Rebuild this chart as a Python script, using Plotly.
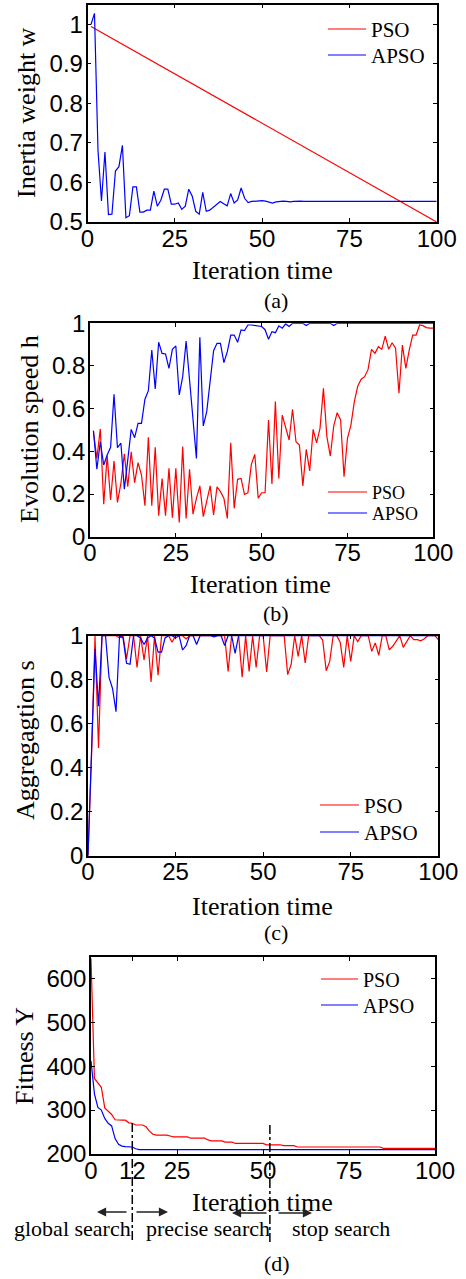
import plotly.graph_objects as go

W, H = 466, 1279

# ---------------- data ----------------
it_a_pso = [1, 100]
w_pso = [0.995, 0.5]
it_100 = list(range(1, 101))
w_apso = [1.0, 1.028, 0.682, 0.553, 0.677, 0.519, 0.52, 0.629, 0.64, 0.694,
          0.511, 0.516, 0.589, 0.589, 0.525, 0.525, 0.53, 0.53, 0.578, 0.54,
          0.555, 0.583, 0.583, 0.545, 0.545, 0.548, 0.532, 0.54, 0.583, 0.565,
          0.527, 0.52, 0.575, 0.527, 0.53, 0.537, 0.545, 0.552, 0.546, 0.541,
          0.572, 0.548, 0.556, 0.586, 0.56, 0.549, 0.552, 0.553, 0.554, 0.554,
          0.553, 0.551, 0.548, 0.551, 0.552, 0.553, 0.552, 0.551, 0.552, 0.553,
          0.553, 0.552, 0.552, 0.552, 0.552, 0.552, 0.552, 0.552, 0.552, 0.552,
          0.552, 0.552, 0.552, 0.552, 0.552, 0.552, 0.552, 0.552, 0.552, 0.552,
          0.552, 0.552, 0.552, 0.552, 0.552, 0.552, 0.552, 0.552, 0.552, 0.552,
          0.552, 0.552, 0.552, 0.552, 0.552, 0.552, 0.552, 0.552, 0.552, 0.552]

h_pso = [0.492, 0.367, 0.505, 0.152, 0.38, 0.172, 0.355, 0.161, 0.25, 0.388,
         0.234, 0.398, 0.253, 0.347, 0.289, 0.145, 0.466, 0.145, 0.419, 0.098,
         0.273, 0.098, 0.32, 0.089, 0.32, 0.067, 0.422, 0.086, 0.316, 0.106,
         0.18, 0.238, 0.094, 0.172, 0.238, 0.102, 0.234, 0.211, 0.18, 0.086,
         0.44, 0.133, 0.269, 0.273, 0.198, 0.206, 0.339, 0.386, 0.18, 0.206,
         0.206, 0.547, 0.247, 0.633, 0.273, 0.57, 0.508, 0.453, 0.597, 0.445,
         0.43, 0.238, 0.409, 0.308, 0.503, 0.44, 0.508, 0.695, 0.469, 0.378,
         0.519, 0.581, 0.547, 0.281, 0.461, 0.523, 0.633, 0.706, 0.738, 0.75,
         0.784, 0.878, 0.859, 0.89, 0.878, 0.94, 0.878, 0.909, 0.883, 0.672,
         0.898, 0.789, 0.875, 0.945, 0.945, 0.992, 0.989, 0.98, 0.977, 0.977]
h_apso = [0.497, 0.316, 0.445, 0.336, 0.383, 0.419, 0.667, 0.417, 0.438, 0.223,
          0.36, 0.503, 0.464, 0.531, 0.531, 0.644, 0.684, 0.875, 0.692, 0.911,
          0.859, 0.856, 0.789, 0.878, 0.894, 0.664, 0.75, 0.917, 0.734, 0.547,
          0.367, 0.934, 0.519, 0.586, 0.719, 0.872, 0.906, 0.906, 0.816, 0.867,
          0.945, 0.945, 0.911, 0.969, 0.966, 0.992, 0.992, 0.99, 0.99, 0.985,
          0.97, 0.925, 0.961, 0.956, 0.988, 0.977, 0.997, 0.985, 1.0, 1.0,
          1.0, 1.0, 0.99, 1.0, 1.0, 1.0, 1.0, 1.0, 1.0, 1.0,
          0.99, 1.0, 1.0, 1.0, 1.0, 1.0, 1.0, 1.0, 1.0, 1.0,
          1.0, 1.0, 1.0, 1.0, 1.0, 1.0, 1.0, 1.0, 1.0, 1.0,
          1.0, 1.0, 1.0, 1.0, 1.0, 1.0, 1.0, 1.0, 1.0, 1.0]

it_101 = list(range(0, 101))
s_pso = [0.0, 0.45, 1.0, 0.49, 1.0, 1.0, 1.0, 1.0, 1.0, 0.99,
         1.0, 0.895, 1.0, 1.0, 0.856, 1.0, 0.89, 1.0, 0.79, 1.0,
         0.82, 1.0, 1.0, 1.0, 0.97, 1.0, 1.0, 1.0, 0.985, 1.0,
         1.0, 1.0, 1.0, 1.0, 1.0, 1.0, 1.0, 1.0, 1.0, 1.0,
         0.838, 1.0, 1.0, 1.0, 0.811, 1.0, 0.838, 1.0, 0.856, 1.0,
         1.0, 0.835, 1.0, 1.0, 1.0, 1.0, 1.0, 0.823, 0.87, 1.0,
         0.906, 1.0, 0.876, 1.0, 1.0, 0.997, 1.0, 0.98, 0.841, 0.883,
         1.0, 1.0, 0.97, 0.856, 1.0, 0.883, 1.0, 0.973, 1.0, 1.0,
         1.0, 0.929, 0.967, 0.911, 1.0, 1.0, 0.936, 0.952, 0.974, 1.0,
         0.947, 0.977, 1.0, 0.982, 0.982, 0.977, 0.986, 1.0, 1.0, 1.0,
         0.982]
s_apso = [0.0, 0.45, 0.94, 0.68, 1.0, 1.0, 0.81, 0.76, 0.655, 1.0,
          0.99, 0.875, 0.87, 1.0, 1.0, 0.99, 0.96, 0.99, 1.0, 0.99,
          0.925, 0.925, 0.99, 1.0, 1.0, 0.99, 1.0, 0.935, 0.955, 1.0,
          1.0, 0.96, 1.0, 1.0, 1.0, 1.0, 0.995, 1.0, 1.0, 0.955,
          1.0, 1.0, 0.92, 1.0, 1.0, 1.0, 1.0, 1.0, 1.0, 1.0,
          1.0, 1.0, 1.0, 1.0, 1.0, 1.0, 1.0, 1.0, 1.0, 1.0,
          1.0, 1.0, 1.0, 1.0, 1.0, 1.0, 1.0, 1.0, 1.0, 1.0,
          1.0, 1.0, 1.0, 1.0, 1.0, 1.0, 1.0, 1.0, 1.0, 1.0,
          1.0, 1.0, 1.0, 1.0, 1.0, 1.0, 1.0, 1.0, 1.0, 1.0,
          1.0, 1.0, 1.0, 1.0, 1.0, 1.0, 1.0, 1.0, 1.0, 1.0,
          1.0]

y_pso = [645, 372, 362, 352, 305, 297, 290, 278, 277, 277,
         277, 271, 270, 266, 266, 266, 262, 252, 245, 243,
         243, 243, 243, 241, 239, 239, 239, 239, 239, 236,
         236, 236, 236, 236, 232, 230, 230, 230, 230, 227,
         227, 227, 224, 224, 224, 224, 224, 224, 224, 224,
         224, 221, 221, 221, 221, 221, 219, 219, 219, 219,
         216, 216, 216, 216, 216, 216, 216, 216, 216, 216,
         216, 216, 216, 216, 216, 216, 216, 216, 216, 216,
         216, 216, 216, 216, 216, 213, 213, 213, 213, 213,
         213, 213, 213, 213, 213, 213, 213, 213, 213, 213,
         213]
y_apso = [412, 337, 306, 300, 281, 270, 264, 235, 222, 218,
          217, 217, 216, 212, 210, 210, 210, 210, 210, 210,
          210, 210, 210, 210, 210, 210, 210, 210, 210, 210,
          210, 210, 210, 210, 210, 210, 210, 210, 210, 210,
          210, 210, 210, 210, 210, 210, 210, 210, 210, 210,
          210, 210, 210, 210, 210, 210, 210, 210, 210, 210,
          210, 210, 210, 210, 210, 210, 210, 210, 210, 210,
          210, 210, 210, 210, 210, 210, 210, 210, 210, 210,
          210, 210, 210, 210, 210, 210, 210, 210, 210, 210,
          210, 210, 210, 210, 210, 210, 210, 210, 210, 210,
          210]

series_names = ["PSO", "APSO"]
x_ticks = [0, 25, 50, 75, 100]
x_ticks_d = [0, 12, 25, 50, 75, 100]
stage_marks = [12, 52]

RED = "#ff0000"
BLUE = "#0000ff"
COLORS = [RED, BLUE]
SANS = "Liberation Sans, Arial, sans-serif"
SERIF = "Liberation Serif, Times New Roman, serif"

def xd(a, b):
    return [a / W, b / W]

def yd(top, bot):
    return [1 - bot / H, 1 - top / H]

def px(x):
    return x / W

def py(y):
    return 1 - y / H

fig = go.Figure()

panels = [
    ("x", "y", it_a_pso, w_pso, it_100, w_apso),
    ("x2", "y2", it_100, h_pso, it_100, h_apso),
    ("x3", "y3", it_101, s_pso, it_101, s_apso),
    ("x4", "y4", it_101, y_pso, it_101, y_apso),
]
for xa, ya, x1, y1, x2, y2 in panels:
    fig.add_trace(go.Scatter(x=x1, y=y1, mode="lines", name=series_names[0],
                             line=dict(color=RED, width=1.2),
                             xaxis=xa, yaxis=ya, showlegend=False))
    fig.add_trace(go.Scatter(x=x2, y=y2, mode="lines", name=series_names[1],
                             line=dict(color=BLUE, width=1.2),
                             xaxis=xa, yaxis=ya, showlegend=False))

axcommon = dict(showline=True, linecolor="black", linewidth=1.5,
                mirror="allticks", ticks="inside", ticklen=4,
                tickcolor="black", tickwidth=1, showgrid=False,
                zeroline=False, automargin=False,
                tickfont=dict(family=SANS, size=24, color="black"))
xcommon = dict(axcommon, ticklabelstandoff=-6)
ycommon = dict(axcommon, ticklabelstandoff=-2)

layout = dict(
    template="none",
    width=W, height=H, margin=dict(l=0, r=0, t=0, b=0, pad=0, autoexpand=False),
    paper_bgcolor="white", plot_bgcolor="white",
    xaxis=dict(domain=xd(87.5, 436.7), range=[0, 100], tickvals=x_ticks,
               anchor="y", **xcommon),
    yaxis=dict(domain=yd(4.7, 222), range=[0.5, 1.05],
               tickvals=[0.5, 0.6, 0.7, 0.8, 0.9, 1.0], anchor="x", **ycommon),
    xaxis2=dict(domain=xd(90, 433.3), range=[0, 100], tickvals=x_ticks,
                anchor="y2", **xcommon),
    yaxis2=dict(domain=yd(323.3, 536.7), range=[0, 1],
                tickvals=[0, 0.2, 0.4, 0.6, 0.8, 1.0], anchor="x2", **ycommon),
    xaxis3=dict(domain=xd(88, 438.3), range=[0, 100], tickvals=x_ticks,
                anchor="y3", **xcommon),
    yaxis3=dict(domain=yd(635.7, 855.7), range=[0, 1],
                tickvals=[0, 0.2, 0.4, 0.6, 0.8, 1.0], anchor="x3", **ycommon),
    xaxis4=dict(domain=xd(91, 435), range=[0, 100], tickvals=x_ticks_d,
                anchor="y4", **xcommon),
    yaxis4=dict(domain=yd(957.3, 1154), range=[200, 648],
                tickvals=[200, 300, 400, 500, 600], anchor="x4", **ycommon),
    showlegend=False,
)
fig.update_layout(**layout)

ann = []
shapes = []

def txt(t, x, y, size, angle=0, family=SERIF, anchor="center"):
    ann.append(dict(text=t, x=px(x), y=py(y), xref="paper", yref="paper",
                    xanchor=anchor, yanchor="middle", showarrow=False,
                    textangle=angle, borderpad=0,
                    font=dict(family=family, size=size, color="black")))

# legends: (line x0, line x1, text x, [row y...], font size)
legends = [
    (328, 366, 370, [29, 55], 21),
    (328, 367, 371, [492, 513], 18),
    (320, 359, 363, [805, 832], 21),
    (321, 358, 362, [979, 1005], 20),
]
for x0, x1, tx, rows, size in legends:
    for name, color, ry in zip(series_names, COLORS, rows):
        shapes.append(dict(type="line", xref="paper", yref="paper",
                           x0=px(x0), x1=px(x1), y0=py(ry), y1=py(ry),
                           line=dict(color=color, width=1.2)))
        txt(name, tx, ry + 1, size, anchor="left")

txt("Inertia weight w", 26, 113, 26, -90)
txt("Iteration time", 262, 270, 26)
txt("(a)", 276, 300, 22)
txt("Evolution speed h", 29, 429, 26, -90)
txt("Iteration time", 260, 584, 26)
txt("(b)", 276, 613, 22)
txt("Aggregagtion s", 25, 740, 26, -90)
txt("Iteration time", 262, 906, 26)
txt("(c)", 276, 932, 22)
txt("Fitness Y", 24, 1056, 26, -90)
txt("Iteration time", 262, 1202, 26)
txt("(d)", 277, 1263, 22)
txt("global search", 72.5, 1228, 22)
txt("precise search", 208, 1228, 22)
txt("stop search", 341, 1228, 22)

def arrow(tipx, tipy, tailx):
    ann.append(dict(text="", x=px(tipx), y=py(tipy), xref="paper", yref="paper",
                    ax=tailx - tipx, ay=0, showarrow=True, arrowhead=2,
                    arrowsize=1.3, arrowwidth=1.4, arrowcolor="#222222"))

arrow(97, 1212, 128)
arrow(168, 1212, 135)
arrow(232, 1213, 268)
arrow(312, 1213, 277)

for xv, top, bot in zip(stage_marks, [1120, 1125], [1240, 1242]):
    shapes.append(dict(type="line", xref="x4", yref="paper", x0=xv, x1=xv,
                       y0=py(bot), y1=py(top),
                       line=dict(color="black", width=1.5, dash="dashdot")))

fig.update_layout(annotations=ann, shapes=shapes)

fig.write_html("out.html")
